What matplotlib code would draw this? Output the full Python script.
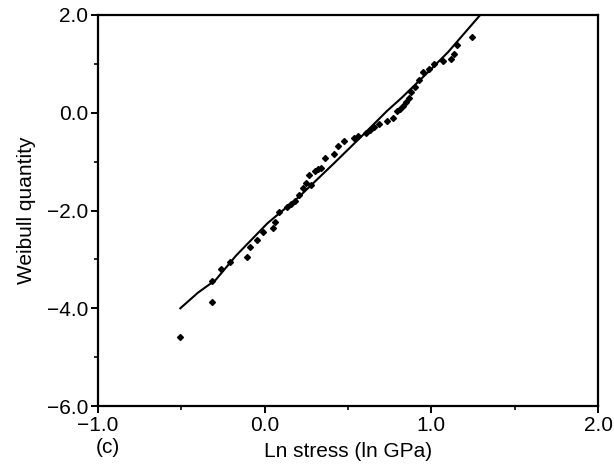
import numpy as np
import matplotlib
matplotlib.use("Agg")
import matplotlib.pyplot as plt
from matplotlib.ticker import MultipleLocator, FuncFormatter

plt.rcParams['font.family'] = ['Liberation Sans', 'DejaVu Sans']

# Weibull plot data: ln stress (ln GPa) vs Weibull quantity
ln_stress = [-0.506, -0.317, -0.317, -0.265, -0.21, -0.105, -0.089, -0.049, -0.011,
             0.052, 0.064, 0.088, 0.135, 0.16, 0.182, 0.206, 0.229, 0.248, 0.276,
             0.264, 0.30, 0.32, 0.335, 0.359, 0.417, 0.441, 0.476, 0.535, 0.56,
             0.606, 0.63, 0.653, 0.688, 0.735, 0.771, 0.794, 0.81, 0.83, 0.85,
             0.865, 0.88, 0.90, 0.924, 0.947, 0.983, 1.018, 1.072, 1.12, 1.136,
             1.152, 1.242]
weibull_q = [-4.59, -3.88, -3.45, -3.19, -3.05, -2.95, -2.75, -2.61, -2.44,
             -2.35, -2.23, -2.04, -1.92, -1.86, -1.80, -1.68, -1.54, -1.44, -1.47,
             -1.27, -1.20, -1.16, -1.13, -0.92, -0.85, -0.68, -0.58, -0.51, -0.47,
             -0.41, -0.36, -0.30, -0.24, -0.17, -0.11, 0.04, 0.08, 0.14, 0.22,
             0.31, 0.42, 0.52, 0.66, 0.83, 0.90, 1.00, 1.05, 1.09, 1.21,
             1.38, 1.54]

# fitted curve
fit_x = [-0.506, -0.40, -0.294, -0.171, 0.017, 0.206, 0.417, 0.60, 0.735, 0.82, 0.959, 1.10, 1.293]
fit_y = [-4.0, -3.68, -3.42, -2.92, -2.26, -1.72, -1.03, -0.42, 0.04, 0.30, 0.76, 1.24, 2.0]

fig = plt.figure(figsize=(6.14, 4.76), dpi=100)
ax = fig.add_axes([0.1596, 0.147, 0.8144, 0.8215])

ax.plot(fit_x, fit_y, color='black', lw=1.5)
ax.plot(ln_stress, weibull_q, linestyle='none', marker='D', ms=3.0, color='black')

ax.set_xlim(-1.0, 2.0)
ax.set_ylim(-6.0, 2.0)
ax.xaxis.set_major_locator(MultipleLocator(1.0))
ax.xaxis.set_minor_locator(MultipleLocator(0.5))
ax.yaxis.set_major_locator(MultipleLocator(2.0))
ax.yaxis.set_minor_locator(MultipleLocator(1.0))
fmt = FuncFormatter(lambda v, p: f"{v:.1f}".replace('-', '\u2212'))
ax.xaxis.set_major_formatter(fmt)
ax.yaxis.set_major_formatter(fmt)

ax.tick_params(which='major', direction='out', length=5, width=1.4, labelsize=15, pad=2)
ax.tick_params(which='minor', direction='out', length=3, width=1.2)
for s in ax.spines.values():
    s.set_linewidth(1.6)

ax.set_xlabel('Ln stress (ln GPa)', fontsize=15, labelpad=5)
ax.set_ylabel('Weibull quantity', fontsize=15, labelpad=8)
fig.text(0.175, 0.06, '(c)', fontsize=15, ha='center', va='center')

fig.savefig('out.png', dpi=100)
